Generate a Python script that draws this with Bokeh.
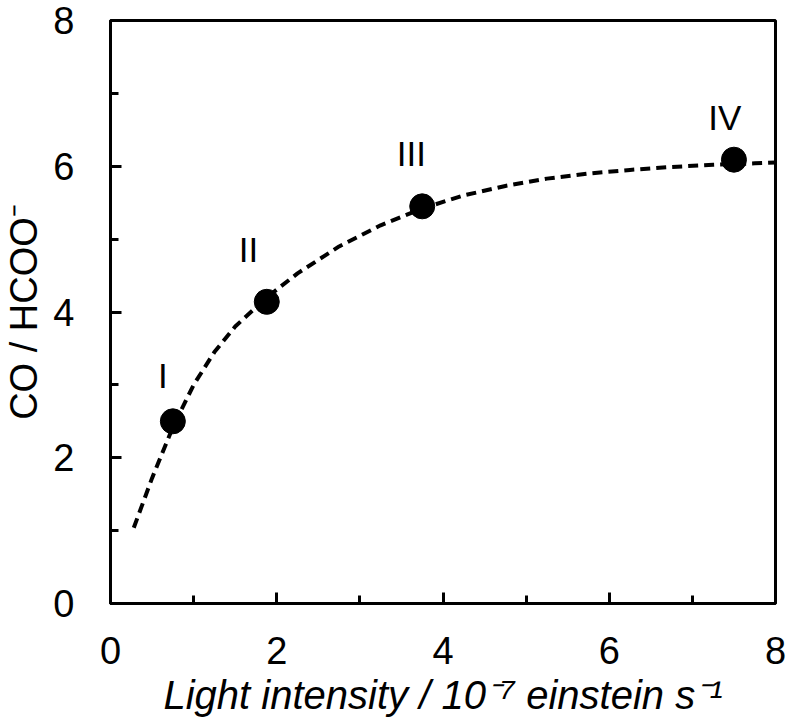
from bokeh.plotting import figure
from bokeh.models import ColumnDataSource, FixedTicker, Range1d
from bokeh.core.properties import value
from bokeh.embed import file_html
from bokeh.resources import INLINE

# measured points
sample_labels = ["I", "II", "III", "IV"]
light_intensity = [0.75, 1.88, 3.75, 7.5]
co_hcoo_ratio = [2.5, 4.14, 5.45, 6.09]

# dashed trend curve
curve_x = [0.28, 0.5, 0.75, 1.0, 1.25, 1.5, 1.88, 2.25, 2.75, 3.25, 3.75,
           4.25, 4.75, 5.25, 5.75, 6.25, 6.75, 7.25, 7.75, 8.0]
curve_y = [1.04, 1.72, 2.42, 3.0, 3.45, 3.8, 4.2, 4.53, 4.9, 5.19, 5.42,
           5.6, 5.73, 5.83, 5.9, 5.95, 5.99, 6.02, 6.04, 6.05]

# label anchor positions (data units)
label_x = [0.63, 1.66, 3.62, 7.39]
label_y = [3.13, 4.86, 6.17, 6.67]

x_ticks = [0, 2, 4, 6, 8]
y_ticks = [0, 2, 4, 6, 8]
minor_ticks = [1, 3, 5, 7]

FONT = "Liberation Sans"

p = figure(width=787, height=725, frame_width=665, frame_height=583,
           output_backend="svg", toolbar_location=None,
           x_range=Range1d(0, 8), y_range=Range1d(0, 8),
           min_border_left=107, min_border_right=15,
           min_border_top=20, min_border_bottom=122)

p.grid.visible = False
p.outline_line_color = "black"
p.outline_line_width = 3
p.background_fill_color = "white"
p.border_fill_color = "white"

p.line(curve_x, curve_y, line_color="black", line_width=4, line_dash="10 6")
p.scatter(light_intensity, co_hcoo_ratio, size=25, color="black")

src = ColumnDataSource(dict(x=label_x, y=label_y, t=sample_labels))
p.text(x="x", y="y", text="t", source=src, text_font=value(FONT),
       text_font_size="35px", text_align="center", text_baseline="middle",
       text_color="black")

for ax, ticks in ((p.xaxis[0], x_ticks), (p.yaxis[0], y_ticks)):
    ax.ticker = FixedTicker(ticks=ticks, minor_ticks=minor_ticks)
    ax.axis_line_width = 3
    ax.axis_line_color = "black"
    ax.major_tick_in = 11
    ax.major_tick_out = 0
    ax.major_tick_line_width = 3
    ax.minor_tick_in = 8
    ax.minor_tick_out = 0
    ax.minor_tick_line_width = 3
    ax.major_label_text_font = FONT
    ax.major_label_text_font_size = "38px"
    ax.major_label_text_color = "black"
    ax.axis_label_text_font = FONT
    ax.axis_label_text_color = "black"

p.xaxis[0].major_label_standoff = 33
p.xaxis[0].axis_label = "Light intensity / 10⁻⁷ einstein s⁻¹"
p.xaxis[0].axis_label_text_font_style = "italic"
p.xaxis[0].axis_label_text_font_size = "40px"
p.xaxis[0].axis_label_standoff = 6

p.yaxis[0].major_label_standoff = 36
p.yaxis[0].axis_label = "CO / HCOO⁻"
p.yaxis[0].axis_label_text_font_style = "normal"
p.yaxis[0].axis_label_text_font_size = "38px"
p.yaxis[0].axis_label_standoff = 5

open("out.html", "w").write(file_html(p, INLINE))
